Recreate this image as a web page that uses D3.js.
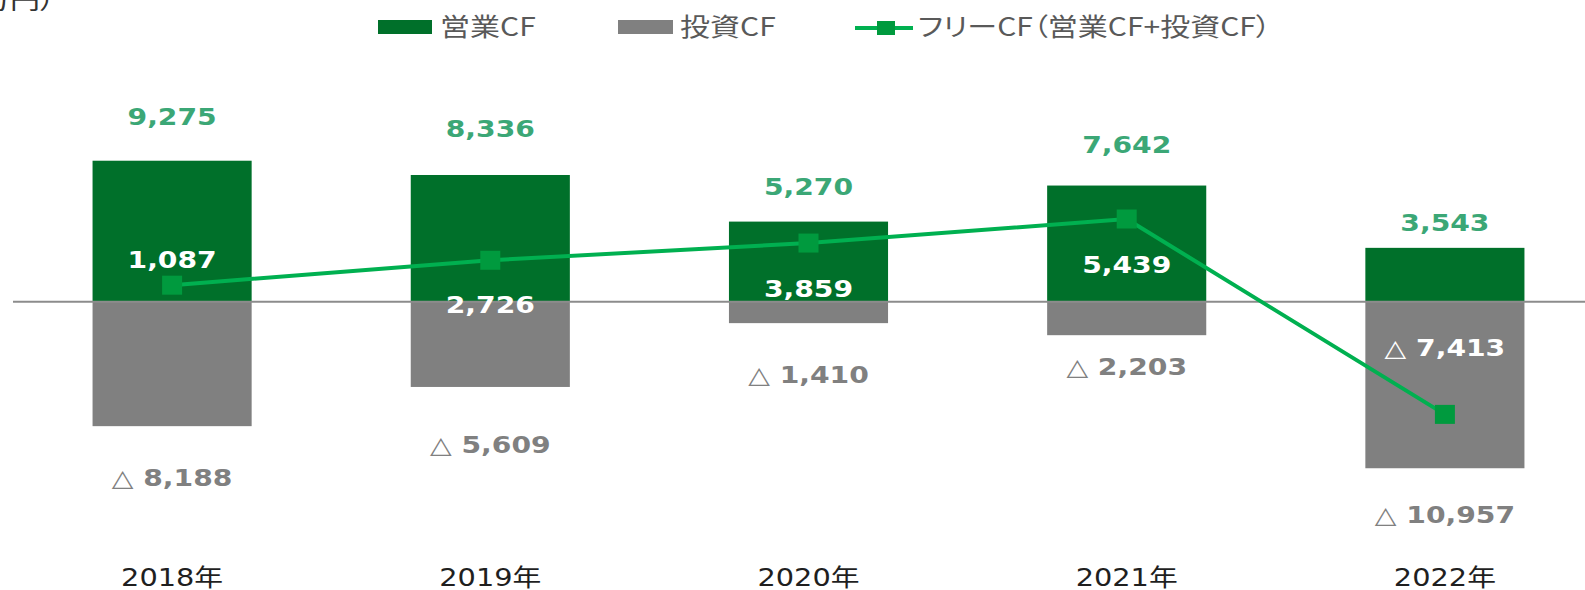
<!DOCTYPE html>
<html lang="ja">
<head>
    <meta charset="UTF-8">
    <title>営業CF・投資CF・フリーCF</title>
    <script src="https://d3js.org/d3.v7.min.js"></script>
    <style>
        html, body { margin: 0; padding: 0; background: #fff; }
        .jp { font-family: "Noto Sans CJK JP", "Noto Sans", sans-serif; font-feature-settings: "palt"; }
        .num { font-family: "DejaVu Sans", "Noto Sans CJK JP", sans-serif; font-weight: bold; }
    </style>
</head>
<body>
    <script>
        // DATA (百万円)
        var years = ["2018年", "2019年", "2020年", "2021年", "2022年"];
        var operatingCF = [9275, 8336, 5270, 7642, 3543];
        var investingCF = [-8188, -5609, -1410, -2203, -10957];
        var freeCF = [1087, 2726, 3859, 5439, -7413];

        // label nudges (px), the original places them by hand
        var opLabelDy = [-36, -38, -27, -33, -17];
        var invLabelDy = [60, 66, 60, 40, 55];
        var freeLabelDy = [-17, 53, 54, 54, -58];

        var width = 1585, height = 590;
        var stretch = 1.2;   // the whole picture is widened a bit

        var opColor = "#00702a", invColor = "#808080";
        var lineColor = "#00b050", markerColor = "#009a3e";

        var svg = d3.select("body").append("svg")
            .attr("width", width)
            .attr("height", height);

        var x = d3.scaleBand()
            .domain(years)
            .range([13, 1604])
            .paddingInner(0.5)
            .paddingOuter(0.25);

        var y = d3.scaleLinear()
            .domain([-12000, 12000])
            .range([301.7 + 182.4, 301.7 - 182.4]);

        var fmt = d3.format(",");
        function signed(v) { return v < 0 ? "△ " + fmt(-v) : fmt(v); }
        function cx(i) { return x(years[i]) + x.bandwidth() / 2; }

        // unit caption, cut off at the top-left corner
        svg.append("text")
            .attr("class", "jp")
            .attr("transform", "translate(55,9) scale(" + stretch + ",1)")
            .attr("text-anchor", "end")
            .attr("font-size", "25px")
            .attr("fill", "#333")
            .text("（百万円）");

        // bars
        svg.append("g").selectAll("rect")
            .data(operatingCF)
            .join("rect")
            .attr("x", function(d, i) { return x(years[i]); })
            .attr("width", x.bandwidth())
            .attr("y", function(d) { return y(d); })
            .attr("height", function(d) { return y(0) - y(d); })
            .attr("fill", opColor);

        svg.append("g").selectAll("rect")
            .data(investingCF)
            .join("rect")
            .attr("x", function(d, i) { return x(years[i]); })
            .attr("width", x.bandwidth())
            .attr("y", y(0))
            .attr("height", function(d) { return y(d) - y(0); })
            .attr("fill", invColor);

        // zero line
        svg.append("line")
            .attr("x1", 13).attr("x2", width)
            .attr("y1", y(0)).attr("y2", y(0))
            .attr("stroke", "#8c8c8c")
            .attr("stroke-width", 2);

        // free CF line
        var line = d3.line()
            .x(function(d, i) { return cx(i); })
            .y(function(d) { return y(d); });

        svg.append("path")
            .datum(freeCF)
            .attr("d", line)
            .attr("fill", "none")
            .attr("stroke", lineColor)
            .attr("stroke-width", 4);

        svg.append("g").selectAll("rect")
            .data(freeCF)
            .join("rect")
            .attr("x", function(d, i) { return cx(i) - 10; })
            .attr("y", function(d) { return y(d) - 9.5; })
            .attr("width", 20)
            .attr("height", 19)
            .attr("fill", markerColor);

        // value labels
        function labels(data, baseY, dy, color) {
            svg.append("g").selectAll("text")
                .data(data)
                .join("text")
                .attr("class", "num")
                .attr("transform", function(d, i) {
                    return "translate(" + cx(i) + "," + (baseY(d) + dy[i]) + ") scale(" + stretch + ",1)";
                })
                .attr("text-anchor", "middle")
                .attr("font-size", "23.5px")
                .attr("fill", color)
                .text(signed);
        }
        labels(operatingCF, y, opLabelDy, "#3ba776");
        labels(investingCF, y, invLabelDy, "#808080");
        labels(freeCF, y, freeLabelDy, "#ffffff");

        // year labels
        svg.append("g").selectAll("text")
            .data(years)
            .join("text")
            .attr("transform", function(d, i) { return "translate(" + cx(i) + ",586) scale(" + stretch + ",1)"; })
            .attr("text-anchor", "middle")
            .attr("font-family", "'DejaVu Sans', 'Noto Sans CJK JP', sans-serif")
            .attr("font-size", "24px")
            .attr("fill", "#1f1f1f")
            .text(function(d) { return d; });

        // legend
        var legend = svg.append("g");
        legend.append("rect").attr("x", 378).attr("y", 20).attr("width", 54).attr("height", 14).attr("fill", opColor);
        legend.append("rect").attr("x", 618).attr("y", 20).attr("width", 55).attr("height", 14).attr("fill", invColor);
        legend.append("line").attr("x1", 855).attr("x2", 913).attr("y1", 28).attr("y2", 28)
            .attr("stroke", lineColor).attr("stroke-width", 4);
        legend.append("rect").attr("x", 877).attr("y", 21).attr("width", 18).attr("height", 14).attr("fill", markerColor);

        var legendItems = [
            { x: 440, text: "営業CF" },
            { x: 680, text: "投資CF" },
            { x: 918, text: "フリーCF（営業CF+投資CF）" }
        ];
        legend.selectAll("text")
            .data(legendItems)
            .join("text")
            .attr("class", "jp")
            .attr("transform", function(d) { return "translate(" + d.x + ",36) scale(" + stretch + ",1)"; })
            .attr("font-size", "25px")
            .attr("fill", "#595959")
            .text(function(d) { return d.text; });
    </script>
</body>
</html>
